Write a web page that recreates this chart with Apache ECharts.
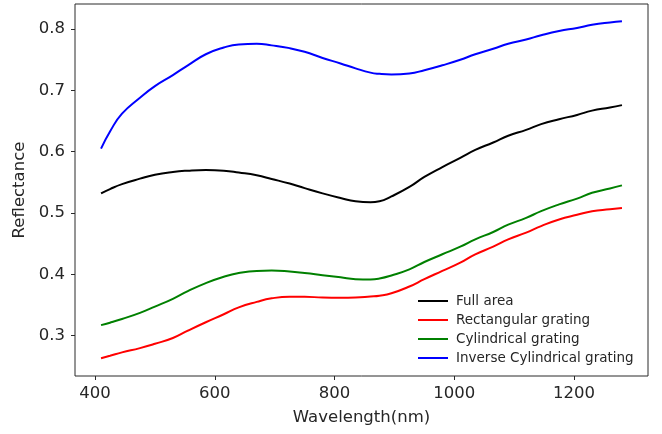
<!DOCTYPE html>
<html>
<head>
<meta charset="utf-8">
<script src="https://cdn.jsdelivr.net/npm/echarts@6/dist/echarts.min.js"></script>
<style>
  html, body { margin: 0; padding: 0; background: #fff; }
  #chart { width: 662px; height: 434px; }
</style>
</head>
<body>
<div id="chart"></div>
<script>
  // wavelengths (nm)
  const wavelengths = [410, 425, 445, 475, 500, 530, 555, 585, 615, 640, 670, 695, 725, 750, 780, 810, 835, 860, 875, 895, 925, 950, 980, 1010, 1035, 1065, 1090, 1120, 1145, 1175, 1205, 1230, 1260, 1280]
  const fullArea = [0.532, 0.539, 0.547, 0.556, 0.5625, 0.567, 0.569, 0.570, 0.569, 0.566, 0.5615, 0.5555, 0.548, 0.5405, 0.532, 0.5245, 0.519, 0.5175, 0.519, 0.527, 0.5425, 0.5588, 0.575, 0.590, 0.603, 0.615, 0.626, 0.6356, 0.645, 0.653, 0.660, 0.667, 0.672, 0.676]
  const rectangular = [0.263, 0.267, 0.2725, 0.2795, 0.2865, 0.296, 0.308, 0.3217, 0.3347, 0.346, 0.355, 0.3607, 0.3633, 0.3633, 0.362, 0.3617, 0.362, 0.3637, 0.365, 0.369, 0.380, 0.392, 0.4055, 0.419, 0.4326, 0.445, 0.457, 0.468, 0.4786, 0.4894, 0.497, 0.503, 0.506, 0.508]
  const cylindrical = [0.317, 0.321, 0.327, 0.337, 0.3472, 0.360, 0.3725, 0.3856, 0.396, 0.402, 0.4055, 0.406, 0.4045, 0.402, 0.3985, 0.395, 0.392, 0.3915, 0.393, 0.398, 0.408, 0.420, 0.4326, 0.445, 0.457, 0.469, 0.481, 0.492, 0.503, 0.514, 0.5235, 0.533, 0.540, 0.545]
  const inverseCylindrical = [0.605, 0.633, 0.662, 0.688, 0.707, 0.725, 0.741, 0.759, 0.770, 0.775, 0.776, 0.7735, 0.769, 0.763, 0.753, 0.744, 0.736, 0.729, 0.727, 0.726, 0.7276, 0.733, 0.741, 0.750, 0.759, 0.768, 0.776, 0.783, 0.790, 0.797, 0.802, 0.807, 0.811, 0.813]

  const xTicks = [400, 600, 800, 1000, 1200]
  const yTicks = [0.3, 0.4, 0.5, 0.6, 0.7, 0.8]

  const seriesNames = ['Full area', 'Rectangular grating', 'Cylindrical grating', 'Inverse Cylindrical grating']
  const seriesValues = [fullArea, rectangular, cylindrical, inverseCylindrical]
  const seriesColors = ['#000000', '#ff0000', '#008000', '#0000ff']

  const textColor = '#262626'
  const frameColor = '#2a2a2a'

  const chart = echarts.init(document.getElementById('chart'))

  chart.setOption({
    animation: false,
    grid: {
      left: 75,
      right: 14,
      top: 4,
      bottom: 58,
      show: true,
      borderColor: frameColor,
      borderWidth: 1
    },
    legend: {
      orient: 'vertical',
      left: 418,
      top: 294,
      padding: 0,
      icon: 'rect',
      itemWidth: 30,
      itemHeight: 2,
      itemGap: 5,
      textStyle: {
        fontFamily: 'DejaVu Sans',
        fontSize: 13.5,
        lineHeight: 14,
        color: textColor,
        padding: [0, 0, 0, 3]
      },
      data: seriesNames
    },
    xAxis: {
      type: 'value',
      min: 366.5,
      max: 1323.5,
      name: 'Wavelength(nm)',
      nameLocation: 'middle',
      nameGap: 33,
      nameTextStyle: { fontFamily: 'DejaVu Sans', fontSize: 16.5, color: textColor },
      splitLine: { show: false },
      axisLine: { show: false },
      axisTick: {
        show: true,
        length: 4,
        lineStyle: { color: frameColor },
        customValues: xTicks
      },
      axisLabel: {
        margin: 9,
        fontFamily: 'DejaVu Sans',
        fontSize: 16.5,
        color: textColor,
        customValues: xTicks,
        formatter: v => String(v)
      }
    },
    yAxis: {
      type: 'value',
      min: 0.234,
      max: 0.841,
      name: 'Reflectance',
      nameLocation: 'middle',
      nameGap: 43,
      nameTextStyle: { fontFamily: 'DejaVu Sans', fontSize: 16.5, color: textColor },
      splitLine: { show: false },
      axisLine: { show: false },
      axisTick: {
        show: true,
        length: 4,
        lineStyle: { color: frameColor },
        customValues: yTicks
      },
      axisLabel: {
        margin: 10,
        fontFamily: 'DejaVu Sans',
        fontSize: 16.5,
        color: textColor,
        customValues: yTicks,
        formatter: v => v.toFixed(1)
      }
    },
    series: seriesNames.map((name, i) => ({
      name: name,
      type: 'line',
      smooth: 0.5,
      symbol: 'none',
      lineStyle: { width: 2, color: seriesColors[i] },
      itemStyle: { color: seriesColors[i] },
      data: wavelengths.map((w, j) => [w, seriesValues[i][j]])
    }))
  })
</script>
</body>
</html>
